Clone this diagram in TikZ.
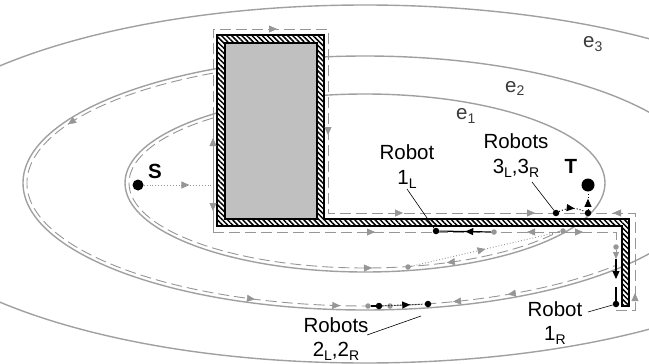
\documentclass[tikz,border=0pt]{standalone}
\usepackage{fontspec}
\setmainfont{Liberation Sans}
\usetikzlibrary{patterns.meta,decorations.markings,arrows.meta}
\definecolor{ellg}{RGB}{160,160,160}
\definecolor{pathg}{RGB}{150,150,150}
\definecolor{rectg}{RGB}{192,192,192}
\definecolor{labg}{RGB}{60,60,60}
\newcommand\lsub[1]{\raisebox{-4pt}{\fontsize{14}{14}\selectfont #1}}
\newcommand\earr[4]{\path[garrow] (365,-183) ++({#3-#4}:#1 and #2) arc[start angle={#3-#4}, end angle={#3+#4}, x radius=#1, y radius=#2];}
\tikzset{
 ell/.style={draw=ellg, line width=1.4pt},
 gdash/.style={draw=pathg, line width=0.9pt, dash pattern=on 11pt off 5pt},
 gline/.style={draw=pathg, line width=0.9pt},
 gdots/.style={draw=pathg, line width=0.9pt, dotted},
 bdots/.style={draw=black, line width=1pt, dotted},
 bline/.style={draw=black, line width=1.1pt},
 leader/.style={draw=black, line width=0.6pt},
 garrow/.style={decorate, decoration={markings, mark=at position 0.5 with {\arrow{Triangle[length=8pt,width=7pt,color=pathg]}}}},
 gmid/.style={postaction={decorate, decoration={markings, mark=at position #1 with {\arrow{Triangle[length=8pt,width=7pt,color=pathg]}}}}},
 bmid/.style={postaction={decorate, decoration={markings, mark=at position #1 with {\arrow{Triangle[length=8pt,width=7pt,color=black]}}}}},
 gdot/.style={circle, fill=pathg, inner sep=0pt, minimum size=5.5pt},
 bdot/.style={circle, fill=black, inner sep=0pt, minimum size=6.5pt},
 lab/.style={inner sep=0pt, anchor=base, font=\fontsize{20.5}{24}\selectfont},
 elab/.style={inner sep=0pt, anchor=base west, text=labg, font=\fontsize{20.5}{24}\selectfont},
 boldlab/.style={inner sep=0pt, anchor=base, font=\fontsize{20.5}{24}\selectfont\bfseries},
 bigdot/.style={circle, fill=black, inner sep=0pt, minimum size=#1},
}
\begin{document}
\begin{tikzpicture}[x=1pt,y=1pt]
\useasboundingbox (0,0) rectangle (649,-364);
\clip (0,0) rectangle (649,-364);
% level ellipses
\draw[ell] (365,-183) ellipse [x radius=240, y radius=89];
\draw[ell] (365,-183) ellipse [x radius=342, y radius=127];
\draw[ell] (365,-184) ellipse [x radius=486, y radius=179];
% dashed paths along ellipses
\draw[gdash] (365,-183) ++(130.1:236 and 85) arc[start angle=130.1, end angle=325.6, x radius=236, y radius=85];
\draw[gdash] (365,-183) ++(116.7:338 and 123) arc[start angle=116.7, end angle=317.7, x radius=338, y radius=123];
\earr{236}{85}{271.7}{1}
\earr{236}{85}{290.3}{-1}
\earr{338}{123}{151.5}{1}
\earr{338}{123}{251}{1}
\earr{338}{123}{265.8}{1}
\earr{338}{123}{285.1}{-1}
\earr{338}{123}{295}{-1}
% obstacle
\fill[white] (217,-226) -- (217,-35) -- (324,-35) -- (324,-219) -- (629,-219) -- (629,-306) -- (622,-306) -- (622,-226) -- cycle;
\fill[pattern={Lines[angle=-45,distance=3.6pt,line width=1.5pt]}] (217,-226) -- (217,-35) -- (324,-35) -- (324,-219) -- (629,-219) -- (629,-306) -- (622,-306) -- (622,-226) -- cycle;
\draw[black, line width=1.8pt] (217,-226) -- (217,-35) -- (324,-35) -- (324,-219) -- (629,-219) -- (629,-306) -- (622,-306) -- (622,-226) -- cycle;
\draw[black, line width=1.8pt, fill=rectg] (225,-43) rectangle (317,-219);
% path around obstacle
\coordinate (pTL) at (213,-29);
\coordinate (pTR) at (328,-29);
\coordinate (pRC) at (328,-213);
\coordinate (pFR) at (635,-213);
\coordinate (pFB) at (635,-310);
\coordinate (pIB) at (616,-310);
\coordinate (pIE) at (616,-304);
\coordinate (pBL) at (213,-232);
\coordinate (pIW) at (616,-232);
\coordinate (pLm) at (213,-118);
\coordinate (pG1R) at (616,-247);
\draw[gdash] (pLm) -- (pTL) -- (pTR) -- (pRC) -- (pFR) -- (pFB) -- (pIB) -- (pIE);
\draw[gdash] (pBL) -- (pIW) -- (pG1R);
\draw[gline] (pLm) -- (pBL);
\path[garrow] (275,-29) -- (279,-29);
\path[garrow] (328,-133) -- (328,-137);
\path[garrow] (401,-213) -- (405,-213);
\path[garrow] (533,-213) -- (537,-213);
\path[garrow] (615,-213) -- (611,-213);
\path[garrow] (635,-295) -- (635,-291);
\path[garrow] (373,-232) -- (377,-232);
\path[garrow] (529,-232) -- (525,-232);
\path[garrow] (581,-232) -- (585,-232);
\path[garrow] (213,-140) -- (213,-136);
\path[garrow] (213,-209) -- (213,-213);
% start and target
\node[bigdot=11pt] (S) at (138,-185) {};
\coordinate (sHit) at (213,-185);
\draw[gdots, gmid=0.66] (S) -- (sHit);
\node[bigdot=13pt] (T) at (588,-185) {};
% e1 leave path
\node[gdot] (gE1) at (408,-267) {};
\node[gdot] (gE1b) at (563,-231) {};
\draw[gdots, gmid=0.5] (gE1) -- (gE1b);
% robot 1L
\node[bdot] (r1L) at (436,-231) {};
\node[gdot] (g1L) at (494,-232) {};
\draw[bline, bmid=0.5] (g1L) -- (r1L);
% robot 1R
\node[gdot] (g1R) at (616,-247) {};
\coordinate (m1R) at (616,-259);
\coordinate (a1R) at (616,-279);
\coordinate (b1R) at (616,-287);
\node[bdot] (r1R) at (616,-304) {};
\draw[gline, -{Triangle[length=7pt,width=6pt]}] (g1R) -- (m1R);
\draw[bline, -{Triangle[length=8pt,width=7pt]}] (m1R) -- (a1R);
\draw[bline] (b1R) -- (r1R);
% robots 2
\node[gdot] (g2a) at (368,-306) {};
\node[bdot] (r2L) at (379,-306) {};
\node[gdot] (g2b) at (390,-306) {};
\node[bdot] (r2R) at (428,-304) {};
\draw[bline] (g2a) -- (r2L);
\draw[bdots, bmid=0.66] (r2L) -- (r2R);
% robots 3
\node[bdot] (r3L) at (556,-213) {};
\node[bdot] (r3R) at (588,-213) {};
\draw[bdots, bmid=0.6] (r3L) to[bend left=25] (r3R);
\draw[bdots, bmid=0.6] (r3R) -- (T);
% labels
\node[boldlab] (lS) at (155,-178) {S};
\node[boldlab] (lT) at (571,-173) {T};
\node[elab] (le1) at (456,-119) {e\lsub{1}};
\node[elab] (le2) at (505,-92) {e\lsub{2}};
\node[elab] (le3) at (583,-47) {e\lsub{3}};
\node[lab] (lr1L) at (407,-159) {Robot};
\node[lab] (ln1L) at (407,-184) {1\lsub{L}};
\node[lab] (lr3) at (516,-148) {Robots};
\node[lab] (ln3) at (516,-173) {3\lsub{L},3\lsub{R}};
\node[lab] (lr2) at (336,-332) {Robots};
\node[lab] (ln2) at (336,-356) {2\lsub{L},2\lsub{R}};
\node[lab] (lr1R) at (555,-316) {Robot};
\node[lab] (ln1R) at (555,-340) {1\lsub{R}};
% leaders
\coordinate (ld1L) at (407,-189);
\coordinate (ld3) at (532,-182);
\coordinate (ld2a) at (367,-335);
\coordinate (ld2b) at (421,-316);
\coordinate (ld1Ra) at (588,-312);
\draw[leader] (ld1L) -- (r1L);
\draw[leader] (ld3) -- (r3L);
\draw[leader] (ld2a) -- (ld2b);
\draw[leader] (ld1Ra) -- (r1R);
\end{tikzpicture}
\end{document}
